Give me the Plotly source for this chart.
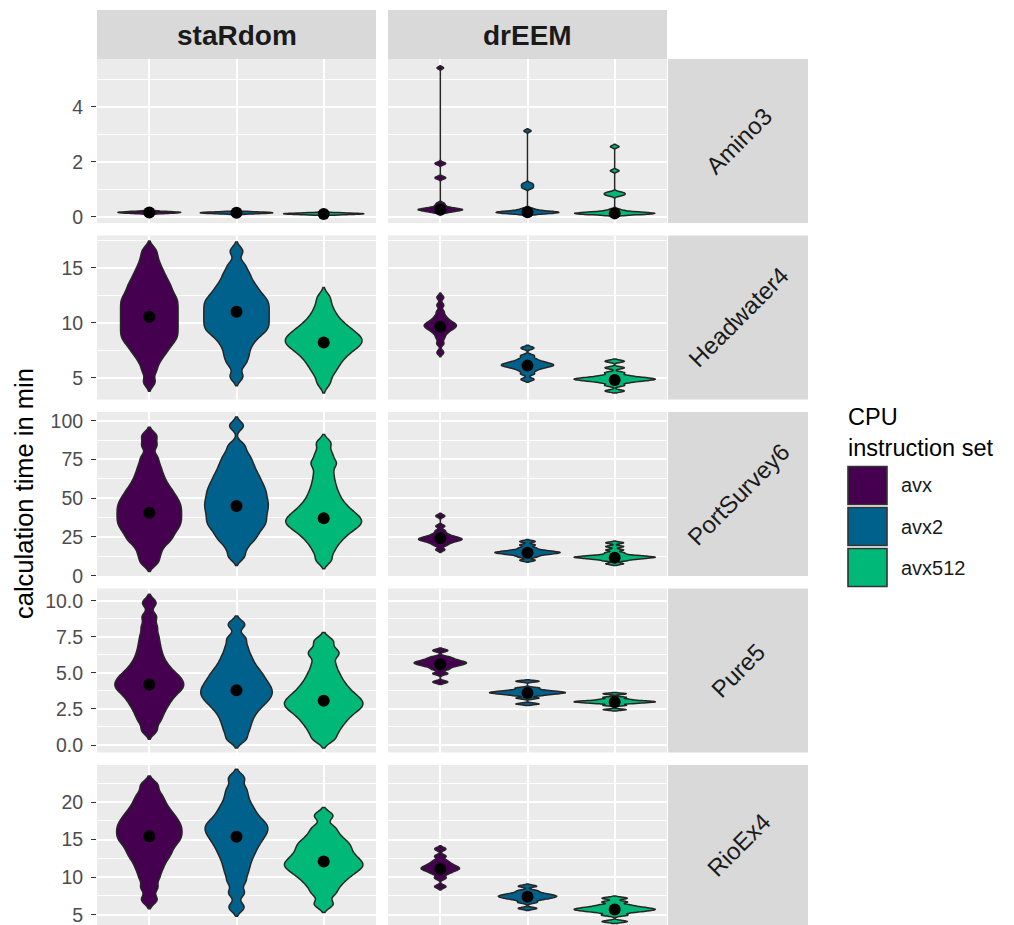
import plotly.graph_objects as go

W, H = 1014, 925

datasets = ["Amino3", "Headwater4", "PortSurvey6", "Pure5", "RioEx4"]
tools = ["staRdom", "drEEM"]
cpu_sets = ["avx", "avx2", "avx512"]

# ---- calculation times (min) ----
amino3_staRdom_avx = [0.12, 0.13, 0.14, 0.15, 0.16, 0.16, 0.17, 0.17, 0.18, 0.19, 0.20, 0.21]
amino3_staRdom_avx2 = [0.11, 0.12, 0.13, 0.14, 0.15, 0.15, 0.16, 0.16, 0.17, 0.18, 0.19]
amino3_staRdom_avx512 = [0.08, 0.09, 0.10, 0.11, 0.11, 0.12, 0.12, 0.13, 0.14, 0.15]
amino3_drEEM_avx = [0.16, 0.19, 0.21, 0.23, 0.25, 0.26, 0.27, 0.28, 0.29, 0.31, 0.33, 0.37, 0.43, 0.50, 1.40, 1.45, 1.92, 1.97, 5.42]
amino3_drEEM_avx2 = [0.11, 0.13, 0.14, 0.15, 0.16, 0.17, 0.17, 0.18, 0.19, 0.20, 0.22, 0.26, 0.31, 1.04, 1.10, 1.16, 1.22, 3.13]
amino3_drEEM_avx512 = [0.08, 0.10, 0.11, 0.12, 0.12, 0.13, 0.13, 0.14, 0.15, 0.16, 0.18, 0.21, 0.27, 0.78, 0.82, 0.86, 0.90, 1.68, 2.56]
amino3_staRdom_dots = [0.16, 0.15, 0.11]
amino3_drEEM_dots = [0.26, 0.17, 0.13]

headwater4_staRdom_avx = [4.6, 5.6, 6.3, 6.8, 7.2, 7.5, 7.8, 8.05, 8.3, 8.5, 8.7, 8.9, 9.1, 9.3, 9.5, 9.7, 9.9, 10.1, 10.3, 10.5, 10.7, 10.9, 11.1, 11.3, 11.5, 11.7, 11.9, 12.1, 12.3, 12.5, 12.75, 13.0, 13.25, 13.5, 13.8, 14.1, 14.45, 14.85, 15.3, 15.9, 16.6]
headwater4_staRdom_avx2 = [5.1, 6.2, 6.8, 7.3, 7.8, 8.2, 8.55, 8.85, 9.1, 9.3, 9.5, 9.7, 9.9, 10.1, 10.3, 10.5, 10.7, 10.9, 11.1, 11.3, 11.5, 11.7, 11.9, 12.1, 12.3, 12.55, 12.8, 13.1, 13.4, 13.75, 14.2, 14.65, 15.3, 16.5]
headwater4_staRdom_avx512 = [4.5, 5.3, 5.8, 6.2, 6.55, 6.85, 7.1, 7.35, 7.55, 7.75, 7.9, 8.05, 8.2, 8.35, 8.5, 8.65, 8.8, 8.95, 9.15, 9.35, 9.55, 9.8, 10.1, 10.45, 10.9, 11.5, 12.3]
headwater4_drEEM_avx = [7.3, 8.1, 8.6, 8.95, 9.2, 9.35, 9.5, 9.6, 9.7, 9.8, 9.9, 10.0, 10.15, 10.35, 10.6, 11.0, 11.6, 12.3]
headwater4_drEEM_avx2 = [4.85, 5.35, 5.65, 5.85, 5.97, 6.06, 6.13, 6.2, 6.28, 6.38, 6.5, 6.7, 7.0, 7.7]
headwater4_drEEM_avx512 = [3.8, 4.3, 4.55, 4.68, 4.76, 4.82, 4.87, 4.92, 4.98, 5.06, 5.2, 5.45, 5.9, 6.5]
headwater4_staRdom_dots = [10.55, 11.0, 8.2]
headwater4_drEEM_dots = [9.64, 6.1, 4.8]

portsurvey6_staRdom_avx = [8.3, 13, 17, 20.5, 22.7, 24.8, 26.8, 28.7, 30.4, 32, 33.5, 35, 36.5, 38, 39.5, 41, 42.5, 44, 45.5, 47, 48.6, 50.3, 52, 54, 56, 58.3, 61, 64, 67.5, 71.5, 76.5, 84, 90.2]
portsurvey6_staRdom_avx2 = [12.2, 17.5, 21.5, 24, 26.3, 28.5, 30.5, 32.2, 33.8, 35.4, 37, 38.6, 40.2, 41.8, 43.3, 44.8, 46.3, 47.8, 49.3, 50.9, 52.5, 54.1, 55.7, 57.4, 59.1, 61, 63, 65, 67.3, 69.8, 72.5, 75.5, 79, 84, 96.7]
portsurvey6_staRdom_avx512 = [10, 15.5, 19.5, 22.5, 25, 27, 28.8, 30.4, 31.8, 33, 34.2, 35.4, 36.6, 37.8, 39.2, 40.6, 42.2, 44, 46, 48.3, 51, 54, 57.5, 61.5, 66, 71, 74, 79, 85.5]
portsurvey6_drEEM_avx = [16.8, 19.5, 20.8, 21.7, 22.4, 22.9, 23.3, 23.7, 24.1, 24.6, 25.2, 26.0, 27.2, 29, 32, 38.5]
portsurvey6_drEEM_avx2 = [9.9, 12.0, 13.1, 13.8, 14.3, 14.65, 14.95, 15.25, 15.6, 16.1, 16.8, 18.0, 19.8, 22.1]
portsurvey6_drEEM_avx512 = [7.7, 9.6, 10.5, 11.0, 11.4, 11.7, 11.95, 12.2, 12.5, 12.9, 13.6, 14.8, 16.6, 18.8, 21.2]
portsurvey6_staRdom_dots = [40.6, 45.0, 37.0]
portsurvey6_drEEM_dots = [24.1, 14.8, 11.5]

pure5_staRdom_avx = [1.0, 1.6, 2.0, 2.35, 2.65, 2.9, 3.15, 3.35, 3.55, 3.72, 3.88, 4.02, 4.16, 4.3, 4.45, 4.6, 4.76, 4.93, 5.12, 5.35, 5.6, 5.9, 6.25, 6.65, 7.1, 7.6, 8.2, 8.9, 9.85]
pure5_staRdom_avx2 = [0.4, 0.95, 1.4, 1.8, 2.15, 2.45, 2.7, 2.92, 3.12, 3.3, 3.47, 3.64, 3.81, 3.98, 4.16, 4.35, 4.55, 4.77, 5.0, 5.25, 5.55, 5.9, 6.3, 6.8, 7.4, 8.35]
pure5_staRdom_avx512 = [0.4, 0.9, 1.3, 1.62, 1.9, 2.14, 2.35, 2.54, 2.7, 2.86, 3.02, 3.19, 3.37, 3.57, 3.8, 4.06, 4.35, 4.7, 5.1, 5.6, 6.2, 6.55, 7.2]
pure5_drEEM_avx = [4.37, 4.95, 5.25, 5.42, 5.52, 5.6, 5.66, 5.72, 5.78, 5.86, 5.96, 6.1, 6.55]
pure5_drEEM_avx2 = [2.85, 3.25, 3.43, 3.52, 3.57, 3.61, 3.65, 3.69, 3.74, 3.82, 3.95, 4.42]
pure5_drEEM_avx512 = [2.45, 2.75, 2.87, 2.93, 2.96, 2.99, 3.02, 3.05, 3.1, 3.18, 3.3, 3.55]
pure5_staRdom_dots = [4.2, 3.8, 3.07]
pure5_drEEM_dots = [5.6, 3.6, 2.98]

rioex4_staRdom_avx = [7.0, 8.6, 9.9, 10.9, 11.7, 12.4, 12.95, 13.45, 13.95, 14.4, 14.8, 15.15, 15.5, 15.85, 16.2, 16.55, 16.9, 17.25, 17.65, 18.05, 18.5, 19.0, 19.6, 20.3, 21.1, 22.3]
rioex4_staRdom_avx2 = [6.0, 7.9, 9.4, 10.5, 11.4, 12.2, 12.9, 13.5, 14.05, 14.55, 15.0, 15.4, 15.8, 16.15, 16.5, 16.85, 17.2, 17.6, 18.05, 18.6, 19.2, 19.9, 20.8, 21.8, 23.2]
rioex4_staRdom_avx512 = [6.4, 7.8, 8.7, 9.4, 9.95, 10.4, 10.8, 11.15, 11.45, 11.75, 12.05, 12.4, 12.75, 13.15, 13.6, 14.05, 14.5, 15.0, 15.7, 16.6, 18.2]
rioex4_drEEM_avx = [8.75, 9.9, 10.45, 10.75, 10.95, 11.1, 11.25, 11.4, 11.6, 11.85, 12.2, 12.8, 13.75]
rioex4_drEEM_avx2 = [5.85, 6.65, 6.98, 7.16, 7.29, 7.4, 7.5, 7.61, 7.74, 7.92, 8.2, 8.8]
rioex4_drEEM_avx512 = [4.1, 4.95, 5.3, 5.48, 5.6, 5.7, 5.8, 5.92, 6.07, 6.3, 6.7, 7.2]
rioex4_staRdom_dots = [15.45, 15.4, 12.1]
rioex4_drEEM_dots = [11.1, 7.4, 5.7]

samples = {
    ("Amino3", "staRdom"): [amino3_staRdom_avx, amino3_staRdom_avx2, amino3_staRdom_avx512],
    ("Amino3", "drEEM"): [amino3_drEEM_avx, amino3_drEEM_avx2, amino3_drEEM_avx512],
    ("Headwater4", "staRdom"): [headwater4_staRdom_avx, headwater4_staRdom_avx2, headwater4_staRdom_avx512],
    ("Headwater4", "drEEM"): [headwater4_drEEM_avx, headwater4_drEEM_avx2, headwater4_drEEM_avx512],
    ("PortSurvey6", "staRdom"): [portsurvey6_staRdom_avx, portsurvey6_staRdom_avx2, portsurvey6_staRdom_avx512],
    ("PortSurvey6", "drEEM"): [portsurvey6_drEEM_avx, portsurvey6_drEEM_avx2, portsurvey6_drEEM_avx512],
    ("Pure5", "staRdom"): [pure5_staRdom_avx, pure5_staRdom_avx2, pure5_staRdom_avx512],
    ("Pure5", "drEEM"): [pure5_drEEM_avx, pure5_drEEM_avx2, pure5_drEEM_avx512],
    ("RioEx4", "staRdom"): [rioex4_staRdom_avx, rioex4_staRdom_avx2, rioex4_staRdom_avx512],
    ("RioEx4", "drEEM"): [rioex4_drEEM_avx, rioex4_drEEM_avx2, rioex4_drEEM_avx512],
}
dots = {
    ("Amino3", "staRdom"): amino3_staRdom_dots, ("Amino3", "drEEM"): amino3_drEEM_dots,
    ("Headwater4", "staRdom"): headwater4_staRdom_dots, ("Headwater4", "drEEM"): headwater4_drEEM_dots,
    ("PortSurvey6", "staRdom"): portsurvey6_staRdom_dots, ("PortSurvey6", "drEEM"): portsurvey6_drEEM_dots,
    ("Pure5", "staRdom"): pure5_staRdom_dots, ("Pure5", "drEEM"): pure5_drEEM_dots,
    ("RioEx4", "staRdom"): rioex4_staRdom_dots, ("RioEx4", "drEEM"): rioex4_drEEM_dots,
}

# ---- styling ----
colors = {"avx": "#450050", "avx2": "#00628C", "avx512": "#00B877"}
violin_widths = {
    ("Amino3", "staRdom"): [0.72, 0.83, 0.92], ("Amino3", "drEEM"): [0.51, 0.72, 0.92],
    ("Headwater4", "staRdom"): [0.66, 0.75, 0.88], ("Headwater4", "drEEM"): [0.37, 0.60, 0.93],
    ("PortSurvey6", "staRdom"): [0.74, 0.73, 0.87], ("PortSurvey6", "drEEM"): [0.50, 0.75, 0.93],
    ("Pure5", "staRdom"): [0.79, 0.82, 0.90], ("Pure5", "drEEM"): [0.60, 0.87, 0.93],
    ("RioEx4", "staRdom"): [0.75, 0.72, 0.90], ("RioEx4", "drEEM"): [0.44, 0.67, 0.93],
}
bandwidths = {
    ("Amino3", "staRdom"): [0.02, 0.02, 0.02], ("Amino3", "drEEM"): [0.04, 0.04, 0.04],
    ("Headwater4", "staRdom"): [0.42, 0.42, 0.45], ("Headwater4", "drEEM"): [0.2, 0.13, 0.1],
    ("PortSurvey6", "staRdom"): [2.8, 2.8, 2.8], ("PortSurvey6", "drEEM"): [0.9, 0.6, 0.55],
    ("Pure5", "staRdom"): [0.3, 0.3, 0.3], ("Pure5", "drEEM"): [0.09, 0.055, 0.045],
    ("RioEx4", "staRdom"): [0.6, 0.6, 0.55], ("RioEx4", "drEEM"): [0.22, 0.14, 0.14],
}
row_axes = [
    dict(range=[-0.22, 5.745], dtick=2, minor=1, fmt=""),
    dict(range=[3.02, 17.93], dtick=5, minor=2.5, fmt=""),
    dict(range=[-0.2, 105.6], dtick=25, minor=12.5, fmt=""),
    dict(range=[-0.52, 10.85], dtick=2.5, minor=1.25, fmt=".1f"),
    dict(range=[3.63, 24.95], dtick=5, minor=2.5, fmt=""),
]

FONT = "Liberation Sans, Arial, Helvetica, sans-serif"
col_px = [(97, 376), (388, 667)]
row_px = [(59, 223), (235.5, 399.5), (412, 576), (588.5, 752.5), (765, 925)]


def px_x(v):
    return v / W


def px_y(v):
    return 1 - v / H


fig = go.Figure()
layout = {}

for r, ds in enumerate(datasets):
    for c, tool in enumerate(tools):
        k = r * 2 + c + 1
        xa = "x" if k == 1 else f"x{k}"
        ya = "y" if k == 1 else f"y{k}"
        for i, cpu in enumerate(cpu_sets):
            vals = samples[(ds, tool)][i]
            fig.add_trace(go.Violin(
                x=[cpu] * len(vals), y=vals, xaxis=xa, yaxis=ya, name=cpu,
                fillcolor=colors[cpu], line=dict(color="#262626", width=1.5),
                width=violin_widths[(ds, tool)][i], bandwidth=bandwidths[(ds, tool)][i],
                spanmode="soft", scalemode="width", points=False,
                box_visible=False, meanline_visible=False,
                hoverinfo="skip", showlegend=False, opacity=1,
            ))
        fig.add_trace(go.Scatter(
            x=cpu_sets, y=dots[(ds, tool)], xaxis=xa, yaxis=ya, mode="markers",
            marker=dict(color="black", size=12, line=dict(width=0)),
            showlegend=False, hoverinfo="skip",
        ))
        cfg = row_axes[r]
        x0, x1 = col_px[c]
        y0, y1 = row_px[r]
        layout["xaxis" if k == 1 else f"xaxis{k}"] = dict(
            domain=[px_x(x0), px_x(x1)], anchor=ya, type="category",
            categoryorder="array", categoryarray=cpu_sets, range=[-0.6, 2.6],
            showgrid=True, gridcolor="white", gridwidth=1.8, automargin=False,
            showticklabels=False, ticks="", zeroline=False, showline=False,
        )
        layout["yaxis" if k == 1 else f"yaxis{k}"] = dict(
            domain=[px_y(y1), px_y(y0)], anchor=xa, range=cfg["range"],
            tick0=0, dtick=cfg["dtick"], tickformat=cfg["fmt"], automargin=False,
            showgrid=True, gridcolor="white", gridwidth=1.8,
            minor=dict(tick0=0, dtick=cfg["minor"], showgrid=True,
                       gridcolor="white", gridwidth=0.9),
            zeroline=False, showline=False, ticklabeloverflow="allow",
            showticklabels=(c == 0), ticks="outside" if c == 0 else "",
            ticklen=5, tickwidth=1.2, tickcolor="#333333", ticklabelstandoff=4,
            tickfont=dict(family=FONT, size=19.5, color="#4D4D4D"),
        )

shapes = []
annotations = []
# top strips
for c, tool in enumerate(tools):
    x0, x1 = col_px[c]
    shapes.append(dict(type="rect", xref="paper", yref="paper",
                       x0=px_x(x0), x1=px_x(x1), y0=px_y(59), y1=px_y(10),
                       fillcolor="#D9D9D9", line=dict(width=0), layer="below"))
    annotations.append(dict(text=f"<b>{tool}</b>", xref="paper", yref="paper",
                            x=px_x((x0 + x1) / 2), y=px_y(35), showarrow=False,
                            xanchor="center", yanchor="middle",
                            font=dict(family=FONT, size=28, color="#1A1A1A")))
# right strips
for r, ds in enumerate(datasets):
    y0, y1 = row_px[r]
    shapes.append(dict(type="rect", xref="paper", yref="paper",
                       x0=px_x(668), x1=px_x(808), y0=px_y(y1), y1=px_y(y0),
                       fillcolor="#D9D9D9", line=dict(width=0), layer="below"))
    annotations.append(dict(text=ds, xref="paper", yref="paper",
                            x=px_x(738), y=px_y((y0 + y1) / 2), showarrow=False,
                            textangle=-45, xanchor="center", yanchor="middle",
                            font=dict(family=FONT, size=24, color="#1A1A1A")))
# y-axis title
annotations.append(dict(text="calculation time in min", xref="paper", yref="paper",
                        x=px_x(24), y=px_y(494), showarrow=False, textangle=-90,
                        xanchor="center", yanchor="middle",
                        font=dict(family=FONT, size=25.5, color="black")))
# legend (drawn manually for large ggplot-style keys)
annotations.append(dict(text="CPU<br>instruction set", xref="paper", yref="paper",
                        x=px_x(846), y=px_y(402), showarrow=False, align="left",
                        xanchor="left", yanchor="top",
                        font=dict(family=FONT, size=23.5, color="black")))
key_tops = [466.5, 507.5, 548.5]
for i, cpu in enumerate(cpu_sets):
    t = key_tops[i]
    shapes.append(dict(type="rect", xref="paper", yref="paper",
                       x0=px_x(848), x1=px_x(887), y0=px_y(t + 38), y1=px_y(t),
                       fillcolor=colors[cpu], line=dict(color="#333333", width=1.6)))
    annotations.append(dict(text=cpu, xref="paper", yref="paper", x=px_x(899), y=px_y(t + 19),
                            showarrow=False, xanchor="left", yanchor="middle",
                            font=dict(family=FONT, size=20, color="#1A1A1A")))

fig.update_layout(
    width=W, height=H, margin=dict(l=0, r=0, t=0, b=0, pad=0, autoexpand=False),
    paper_bgcolor="white", plot_bgcolor="#EBEBEB",
    violinmode="overlay", showlegend=False,
    shapes=shapes, annotations=annotations,
    font=dict(family=FONT),
    **layout,
)

pin_to_corner = (
    "document.documentElement.style.margin='0px';"
    "document.body.style.margin='0px';"
    "var gd=document.getElementById('{plot_id}');"
    "gd.style.position='fixed';gd.style.left='0px';gd.style.top='0px';"
)
fig.write_html("out.html", config={"displayModeBar": False}, post_script=pin_to_corner)
